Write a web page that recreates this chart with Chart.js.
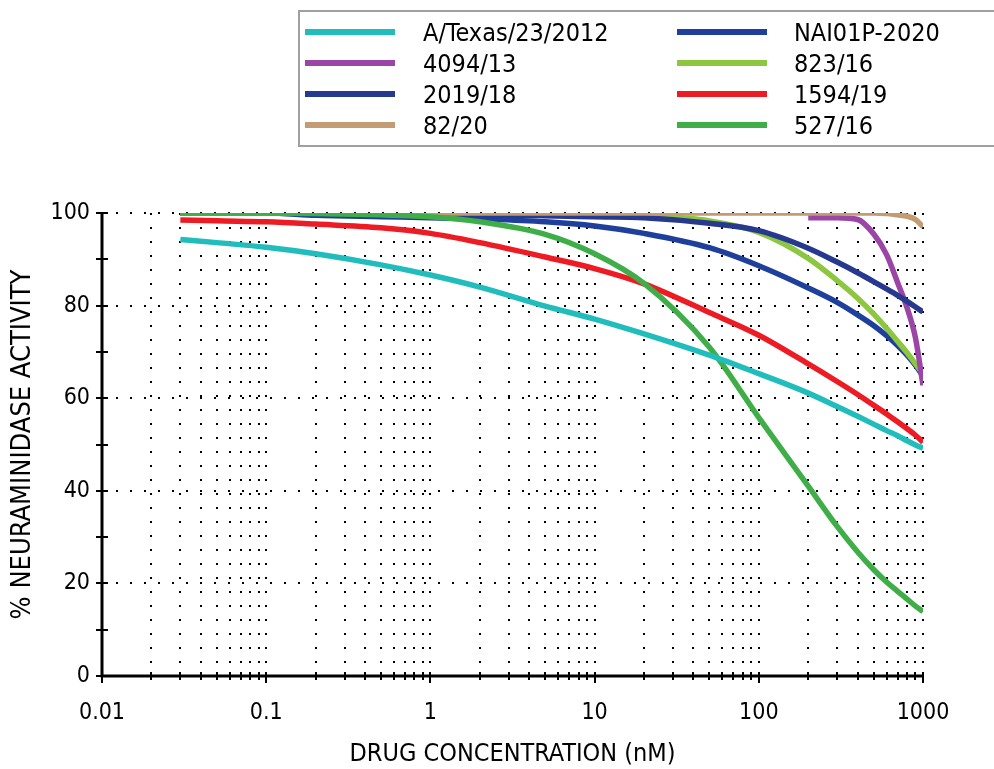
<!DOCTYPE html>
<html lang="en">
<head>
<meta charset="UTF-8">
<title>Neuraminidase inhibition</title>
<script src="https://cdn.jsdelivr.net/npm/chart.js"></script>
<style>
    body { margin: 0; background: #fff; }
    canvas { display: block; }
</style>
</head>
<body>
<canvas id="grafico" width="994" height="769"></canvas>
<script>
    const concentracoes = [0.03, 0.05, 0.1, 0.2, 0.5, 1, 2, 5, 10, 20, 50, 100, 200, 300, 400, 500, 600, 700, 800, 900, 1000];

    const nomes = ['A/Texas/23/2012', 'NAI01P-2020', '4094/13', '823/16', '2019/18', '1594/19', '82/20', '527/16'];
    const cores = ['#21bcbc', '#1e3f9c', '#9b45a6', '#8dc63f', '#27398f', '#ed1c24', '#c39c73', '#3fae49'];
    // drawing order (lower = on top)
    const camadas = [0, 7, 5, 6, 4, 2, 3, 1];

    const aTexas  = [94.3, 93.6, 92.6, 91.2, 88.8, 86.6, 84.0, 79.9, 77.1, 73.9, 69.3, 65.3, 61.1, 58.2, 56.1, 54.4, 53.0, 51.9, 50.8, 49.9, 49.2];
    const nai01p  = [100, 100, 100, 99.5, 99.2, 99.0, 98.7, 98.1, 97.2, 95.6, 92.5, 88.6, 83.8, 80.7, 78.0, 75.7, 73.5, 71.4, 69.3, 67.1, 64.8];
    const v4094   = [null, null, null, null, null, null, null, null, null, null, null, null, 99.0, 99.0, 98.6, 95.5, 91.0, 85.0, 79.5, 73.0, 62.8];
    const v823    = [100, 100, 100, 100, 100, 100, 99.9, 99.8, 99.7, 99.4, 98.3, 95.8, 90.2, 85.4, 81.6, 78.2, 75.1, 72.3, 69.8, 67.4, 65.2];
    const v2019   = [100, 100, 100, 100, 100, 99.8, 99.6, 99.4, 99.2, 99.0, 97.8, 96.2, 92.4, 89.4, 87.1, 85.2, 83.6, 82.2, 80.9, 79.7, 78.6];
    const v1594   = [98.5, 98.3, 98.1, 97.6, 96.8, 95.6, 93.6, 90.5, 88.0, 84.7, 78.5, 73.6, 67.4, 63.6, 60.8, 58.5, 56.6, 54.9, 53.4, 52.0, 50.5];
    const v82     = [100, 100, 100, 100, 100, 100, 100, 100, 100, 100, 100, 100, 100, 100, 100, 100, 99.9, 99.6, 99.3, 98.6, 97.0];
    const v527    = [100, 100, 100, 99.9, 99.6, 99.2, 98.1, 95.4, 91.2, 84.8, 71.0, 55.8, 41.0, 32.3, 26.8, 23.0, 20.3, 18.3, 16.6, 15.1, 13.9];

    const series = [aTexas, nai01p, v4094, v823, v2019, v1594, v82, v527];

    // axis ticks
    const xDecadas = [0.01, 0.1, 1, 10, 100, 1000];
    const xRotulos = ['0.01', '0.1', '1', '10', '100', '1000'];
    const xMultiplos = [1, 2, 3, 4, 5, 6, 7, 8, 9];
    const yTicks = [0, 10, 20, 30, 40, 50, 60, 70, 80, 90, 100];
    const yRotulos = ['0', '', '20', '', '40', '', '60', '', '80', '', '100'];

    let xGrade = [];
    xDecadas.forEach(d => {
        if (d === 1000) { xGrade.push(d); return; }
        xMultiplos.forEach(m => xGrade.push(Number((d * m).toPrecision(3))));
    });

    const fonte = "'DejaVu Sans Condensed', 'DejaVu Sans', sans-serif";

    const datasets = series.map((valores, i) => ({
        label: nomes[i],
        data: concentracoes.map((c, j) => ({ x: c, y: valores[j] })).filter(p => p.y !== null),
        borderColor: cores[i],
        backgroundColor: cores[i],
        borderWidth: 5.5,
        pointRadius: 0,
        fill: false,
        order: camadas[i],
        cubicInterpolationMode: 'monotone'
    }));

    const eixos = {
        id: 'eixos',
        afterDatasetsDraw(chart) {
            const ctx = chart.ctx;
            const sx = chart.scales.x;
            const sy = chart.scales.y;
            const x0 = sx.getPixelForValue(0.01);
            const x1 = sx.getPixelForValue(1000);
            const y0 = sy.getPixelForValue(0);
            const y1 = sy.getPixelForValue(100);
            ctx.save();
            ctx.strokeStyle = '#000';
            ctx.lineWidth = 3;
            ctx.beginPath();
            ctx.moveTo(x0, y1);
            ctx.lineTo(x0, y0);
            ctx.lineTo(x1, y0);
            ctx.stroke();
            ctx.lineWidth = 2;
            ctx.beginPath();
            yTicks.forEach(v => {
                const py = Math.round(sy.getPixelForValue(v));
                ctx.moveTo(x0 - 6, py);
                ctx.lineTo(x0 + 6, py);
            });
            xGrade.forEach(v => {
                const px = Math.round(sx.getPixelForValue(v));
                const baixo = xDecadas.includes(v) ? 7 : 4;
                ctx.moveTo(px, y0 - 4);
                ctx.lineTo(px, y0 + baixo);
            });
            ctx.stroke();
            ctx.restore();
        }
    };

    const legenda = {
        id: 'legenda',
        afterDraw(chart) {
            const ctx = chart.ctx;
            ctx.save();
            ctx.strokeStyle = '#a0a0a0';
            ctx.lineWidth = 2;
            ctx.strokeRect(299, 11, 700, 135);
            ctx.font = '25px ' + fonte;
            ctx.textBaseline = 'middle';
            ctx.fillStyle = '#000';
            chart.data.datasets.forEach((ds, i) => {
                const col = i % 2;
                const lin = Math.floor(i / 2);
                const y = 32 + lin * 31;
                const xs = col === 0 ? 305 : 677;
                const xt = col === 0 ? 423 : 794;
                ctx.strokeStyle = ds.borderColor;
                ctx.lineWidth = 6;
                ctx.beginPath();
                ctx.moveTo(xs, y);
                ctx.lineTo(xs + 90, y);
                ctx.stroke();
                ctx.fillText(ds.label, xt, y + 2);
            });
            ctx.restore();
        }
    };

    new Chart(document.getElementById('grafico'), {
        type: 'line',
        data: { datasets: datasets },
        plugins: [eixos, legenda],
        options: {
            responsive: false,
            animation: false,
            devicePixelRatio: 1,
            layout: { padding: { top: 213, right: 71, bottom: 0, left: 0 } },
            plugins: {
                legend: { display: false },
                tooltip: { enabled: false }
            },
            scales: {
                x: {
                    type: 'logarithmic',
                    min: 0.01,
                    max: 1000,
                    afterBuildTicks: s => { s.ticks = xGrade.map(v => ({ value: v })); },
                    afterFit: s => { s.height = 93; },
                    ticks: {
                        autoSkip: false,
                        maxRotation: 0,
                        padding: 23,
                        color: '#000',
                        font: { family: fonte, size: 23 },
                        callback: v => {
                            const i = xDecadas.indexOf(v);
                            return i >= 0 ? xRotulos[i] : '';
                        }
                    },
                    grid: {
                        drawTicks: false,
                        color: ctx => (ctx.tick && ctx.tick.value === 0.01) ? 'rgba(0,0,0,0)' : '#000',
                        lineWidth: 2
                    },
                    border: { display: false, dash: [2, 12] },
                    title: {
                        display: true,
                        text: 'DRUG CONCENTRATION (nM)',
                        color: '#000',
                        font: { family: fonte, size: 25 },
                        padding: { top: 0, bottom: 0 }
                    }
                },
                y: {
                    min: 0,
                    max: 100,
                    afterBuildTicks: s => { s.ticks = yTicks.map(v => ({ value: v })); },
                    afterFit: s => { s.width = 102; },
                    ticks: {
                        padding: 12,
                        color: '#000',
                        font: { family: fonte, size: 23 },
                        callback: v => yRotulos[yTicks.indexOf(v)]
                    },
                    grid: {
                        drawTicks: false,
                        color: ctx => (ctx.tick && ctx.tick.value % 20 === 0 && ctx.tick.value > 0) ? '#000' : 'rgba(0,0,0,0)',
                        lineWidth: 2
                    },
                    border: { display: false, dash: [2, 12] },
                    title: {
                        display: true,
                        text: '% NEURAMINIDASE ACTIVITY',
                        color: '#000',
                        font: { family: fonte, size: 27 },
                        padding: { top: 7, bottom: 0 }
                    }
                }
            }
        }
    });
</script>
</body>
</html>
